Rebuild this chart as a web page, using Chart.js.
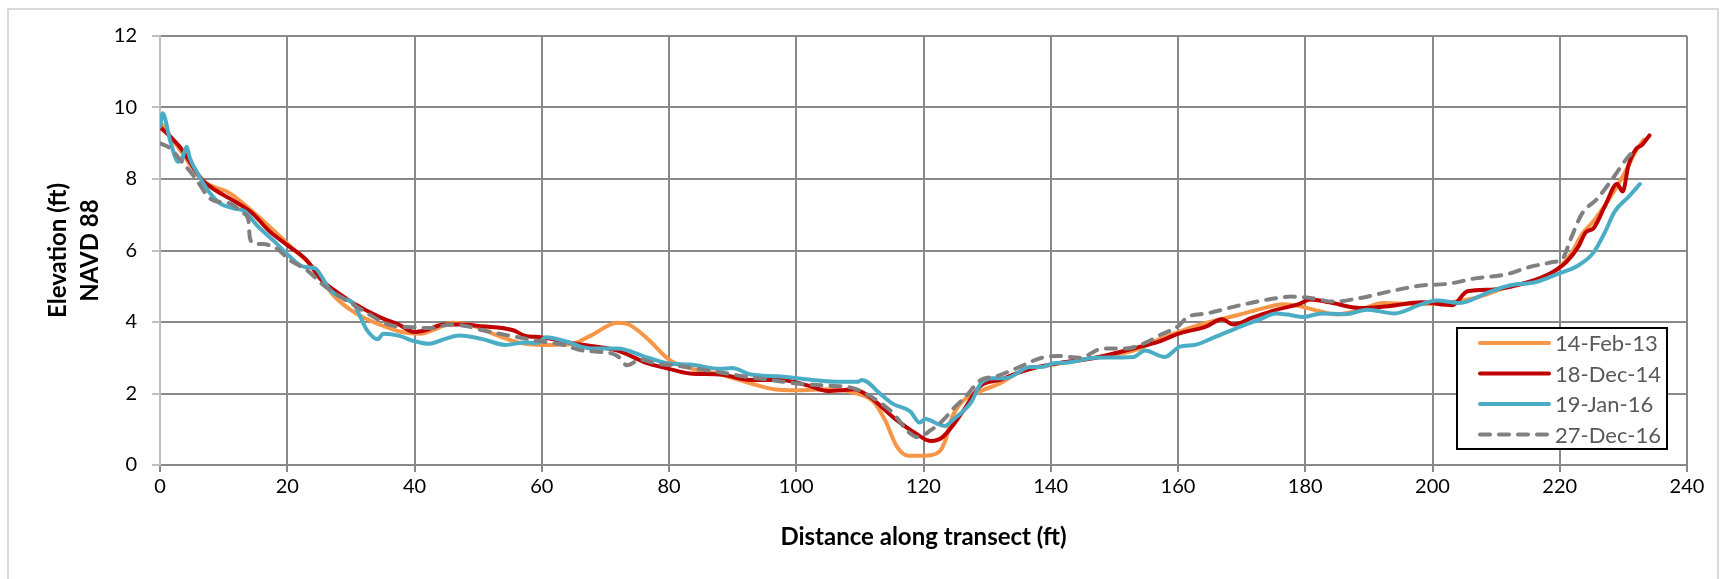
<!DOCTYPE html>
<html>
<head>
<meta charset="utf-8">
<title>Transect elevation</title>
<script src="https://cdn.jsdelivr.net/npm/chart.js@4.4.1/dist/chart.umd.min.js"></script>
<style>
  html, body { margin: 0; padding: 0; background: #fff; }
  canvas { display: block; }
</style>
</head>
<body>
<canvas id="transectChart" width="1732" height="579"></canvas>
<script>
// survey labels
const surveyLabels = ['14-Feb-13', '18-Dec-14', '19-Jan-16', '27-Dec-16'];
const surveyColors = ['#F79646', '#C00000', '#4BACC6', '#808080'];

// [distance (ft), elevation (ft)]
const feb13 = [
  [0, 9.6], [3, 8.85], [6.7, 7.96], [11, 7.6], [17, 6.7], [20, 6.2], [24.8, 5.38], [27.2, 4.76],
  [30.8, 4.24], [34.5, 3.93], [38, 3.72], [41, 3.67], [42.9, 3.77], [45.9, 3.98], [49.5, 3.88],
  [53.1, 3.62], [56.7, 3.41], [60, 3.36], [64.5, 3.38], [67.7, 3.62], [71.9, 3.98], [73.7, 3.93],
  [76.7, 3.52], [80, 2.95], [82.7, 2.74], [88.1, 2.53], [92.9, 2.28], [96.5, 2.12], [100.1, 2.09],
  [104.9, 2.12], [109.1, 2.02], [112.2, 1.76], [114, 1.24], [115.8, 0.52], [117.6, 0.26], [120, 0.26],
  [122.4, 0.36], [123.3, 0.62], [124.5, 1.34], [126, 1.76], [129, 2.07], [132, 2.28], [135, 2.59],
  [139.8, 2.79], [147, 3.0], [153, 3.2], [157.1, 3.52], [160, 3.72], [164.5, 3.98], [169.3, 4.19],
  [172.9, 4.36], [176.6, 4.5], [179, 4.45], [181.4, 4.34], [185, 4.21], [188.6, 4.34], [192.2, 4.53],
  [197, 4.5], [201.9, 4.53], [206.7, 4.67], [211.5, 4.96], [216.3, 5.17], [219.3, 5.43], [221.7, 5.89],
  [223.5, 6.46], [225.3, 6.82], [227.8, 7.45], [230.2, 8.17], [232, 8.79], [233.2, 9.1]
];

const dec14 = [
  [0, 9.46], [3.1, 8.9], [6.7, 7.96], [8.6, 7.7], [11, 7.45], [14.6, 7.03], [17, 6.57], [20, 6.15],
  [23, 5.74], [25.4, 5.17], [27.2, 4.91], [30.2, 4.55], [34.5, 4.14], [37.5, 3.93], [40, 3.72],
  [41.7, 3.77], [44.7, 3.93], [47.1, 3.93], [50.7, 3.88], [55.5, 3.77], [57.3, 3.62], [60, 3.57],
  [65, 3.4], [71.9, 3.2], [76.7, 2.84], [80, 2.69], [83.3, 2.56], [88.1, 2.53], [92.9, 2.38],
  [97.7, 2.38], [101.9, 2.22], [104.9, 2.07], [107.3, 2.09], [109.1, 2.12], [111.5, 1.91],
  [115.2, 1.34], [118.8, 0.88], [121.2, 0.67], [123, 0.78], [126, 1.45], [129, 2.22], [132, 2.38],
  [135, 2.59], [137.9, 2.74], [140.9, 2.84], [147, 3.0], [153, 3.26], [157.1, 3.46], [160, 3.67],
  [164.5, 3.88], [166.9, 4.08], [168.7, 3.93], [171.7, 4.12], [175.4, 4.34], [179, 4.5], [180.8, 4.63],
  [183.8, 4.55], [188.6, 4.39], [193.4, 4.45], [198.3, 4.55], [203.1, 4.47], [205.5, 4.86],
  [209.7, 4.91], [215.1, 5.12], [218.7, 5.38], [221.1, 5.69], [222.9, 6.1], [224.1, 6.51],
  [225.3, 6.62], [227.1, 7.24], [229, 7.86], [229.9, 7.65], [230.8, 8.38], [232, 8.84], [232.9, 8.95],
  [234.1, 9.22]
];

const jan16 = [
  [0, 9.46], [0.42, 9.84], [1.57, 9.09], [2.88, 8.48], [3.4, 8.53], [4.19, 8.9], [4.7, 8.58],
  [5.77, 8.2], [7.86, 7.6], [9.43, 7.32], [11.5, 7.18], [13.4, 7.09], [15.2, 6.71], [18.3, 6.2],
  [20.4, 5.83], [22.5, 5.55], [24.4, 5.5], [25.4, 5.27], [26.7, 4.9], [28.8, 4.66], [30.4, 4.52],
  [32.5, 3.78], [34.2, 3.52], [35.1, 3.67], [37.5, 3.62], [40, 3.46], [42.3, 3.39], [44.7, 3.52],
  [47.1, 3.62], [50.7, 3.52], [54.3, 3.36], [57.3, 3.43], [59.2, 3.41], [60.7, 3.57], [63.7, 3.46],
  [67.6, 3.26], [71.9, 3.26], [76.7, 3.0], [80, 2.84], [83.3, 2.81], [88.1, 2.69], [89.9, 2.71],
  [92.9, 2.53], [97.1, 2.48], [102.5, 2.38], [106.1, 2.33], [109.7, 2.33], [110.3, 2.38],
  [113.4, 1.96], [115.2, 1.71], [117.9, 1.5], [119.4, 1.19], [120.3, 1.29], [122.1, 1.16],
  [123.3, 1.09], [124.8, 1.29], [127.5, 1.76], [129, 2.28], [130.8, 2.43], [132.9, 2.43],
  [136.8, 2.74], [138.6, 2.74], [140.3, 2.84], [142.7, 2.87], [147, 3.0], [153, 3.02], [154.8, 3.2],
  [157.9, 3.02], [160.3, 3.31], [162.7, 3.36], [165.7, 3.57], [169.9, 3.88], [172.9, 4.08],
  [175.4, 4.24], [177.8, 4.19], [179.6, 4.14], [182.6, 4.24], [186.2, 4.22], [189.8, 4.34],
  [194, 4.24], [198.3, 4.5], [200.7, 4.6], [204.3, 4.53], [208.5, 4.81], [212.1, 5.02], [216.3, 5.12],
  [219.9, 5.36], [222.9, 5.58], [225.3, 5.94], [227.1, 6.51], [228.6, 7.08], [230.8, 7.5], [232.6, 7.86]
];

const dec16 = [
  [0, 9.0], [1.57, 8.86], [3.66, 8.44], [5.77, 7.97], [7.6, 7.5], [8.9, 7.37], [11, 7.32],
  [13.1, 7.04], [13.9, 6.85], [14.1, 6.39], [14.7, 6.2], [16.2, 6.18], [18.3, 6.06], [20.4, 5.73],
  [23.1, 5.45], [25.7, 5.03], [28.3, 4.71], [30.9, 4.43], [33, 4.2], [36.1, 3.92], [40, 3.85],
  [42.3, 3.83], [45.9, 3.93], [48.3, 3.88], [50.7, 3.77], [54.9, 3.62], [59.8, 3.46], [63.4, 3.36],
  [66.4, 3.2], [68.9, 3.17], [71.9, 3.05], [73.4, 2.79], [75.5, 2.95], [77.9, 2.84], [80.9, 2.79],
  [84.5, 2.69], [88.1, 2.59], [91.7, 2.48], [95.9, 2.38], [100.1, 2.28], [104.9, 2.22], [108.5, 2.17],
  [112.2, 1.86], [115.2, 1.45], [117.6, 0.93], [119.1, 0.78], [121.2, 0.98], [123, 1.24], [124.8, 1.6],
  [126.6, 1.91], [129, 2.38], [131.4, 2.48], [134.4, 2.69], [138.6, 3.0], [141, 3.05], [144.6, 3.0],
  [148.2, 3.26], [151.8, 3.26], [155.4, 3.46], [157, 3.62], [160, 3.88], [161.5, 4.14], [164.5, 4.24],
  [169.3, 4.45], [174.2, 4.63], [177.8, 4.71], [180.8, 4.67], [184.4, 4.57], [188.6, 4.67],
  [193.4, 4.86], [198.3, 5.02], [202.5, 5.07], [206.7, 5.22], [211.5, 5.33], [215.1, 5.53],
  [218.7, 5.67], [220.5, 5.79], [221.7, 6.31], [223.5, 7.03], [225.9, 7.45], [228.3, 8.01],
  [230.8, 8.63], [231.8, 8.8]
];

const xTicks = [0, 20, 40, 60, 80, 100, 120, 140, 160, 180, 200, 220, 240];
const yTicks = [0, 2, 4, 6, 8, 10, 12];

const FONT = 'Lato, "Open Sans", sans-serif';
const GRID = '#898989';
const AXIS_LIGHT = '#bfbfbf';

function toPoints(pairs) {
  return pairs.map(p => ({ x: p[0], y: p[1] }));
}

const seriesData = [feb13, dec14, jan16, dec16];

const datasets = seriesData.map((pairs, i) => ({
  label: surveyLabels[i],
  data: toPoints(pairs),
  borderColor: surveyColors[i],
  backgroundColor: surveyColors[i],
  borderWidth: 4,
  borderDash: i === 3 ? [10, 9] : [],
  borderCapStyle: 'round',
  borderJoinStyle: 'round',
  pointRadius: 0,
  cubicInterpolationMode: 'monotone',
  fill: false,
  order: 3 - i   // later surveys drawn on top, like the original
}));

// light grey frame round the whole chart
const outerFrame = {
  id: 'outerFrame',
  beforeDraw(chart) {
    const ctx = chart.ctx;
    ctx.save();
    ctx.strokeStyle = '#d9d9d9';
    ctx.lineWidth = 2;
    ctx.strokeRect(8, 9, 1710, 640);
    ctx.restore();
  }
};

// boxed legend sitting inside the plot, bottom right
const boxLegend = {
  id: 'boxLegend',
  afterDraw(chart) {
    const ctx = chart.ctx;
    const area = chart.chartArea;
    const w = 210, h = 121;
    const left = area.right - 20 - w;
    const top = area.bottom - 16 - h;
    ctx.save();
    ctx.fillStyle = '#fff';
    ctx.fillRect(left, top, w, h);
    ctx.strokeStyle = '#000';
    ctx.lineWidth = 2;
    ctx.strokeRect(left, top, w, h);

    ctx.font = '22px ' + FONT;
    ctx.textBaseline = 'middle';
    ctx.textAlign = 'left';
    chart.data.datasets.forEach((ds, i) => {
      const y = top + 15 + i * 30.5;
      ctx.beginPath();
      ctx.setLineDash(ds.borderDash || []);
      ctx.lineCap = 'round';
      ctx.strokeStyle = ds.borderColor;
      ctx.lineWidth = 4;
      ctx.moveTo(left + 23, y);
      ctx.lineTo(left + 92, y);
      ctx.stroke();
      ctx.setLineDash([]);
      ctx.fillStyle = '#595959';
      ctx.fillText(ds.label, left + 98, y + 1);
    });
    ctx.restore();
  }
};

const ctx = document.getElementById('transectChart').getContext('2d');
new Chart(ctx, {
  type: 'line',
  data: { datasets: datasets },
  plugins: [outerFrame, boxLegend],
  options: {
    responsive: false,
    maintainAspectRatio: false,
    devicePixelRatio: 1,
    animation: false,
    layout: {
      padding: { left: 0, right: 45, top: 36, bottom: 0 }
    },
    plugins: {
      legend: { display: false },
      tooltip: { enabled: false }
    },
    scales: {
      x: {
        type: 'linear',
        min: 0,
        max: 240,
        afterFit: scale => { scale.height = 114; },
        afterBuildTicks: scale => { scale.ticks = xTicks.map(v => ({ value: v })); },
        grid: {
          color: c => (c.index === 0 ? AXIS_LIGHT : GRID),
          tickColor: GRID,
          lineWidth: 2,
          tickLength: 7
        },
        border: { color: GRID, width: 2 },
        ticks: {
          color: '#000',
          padding: 3,
          maxRotation: 0,
          font: { family: FONT, size: 20 }
        },
        title: {
          display: true,
          text: 'Distance along transect (ft)',
          color: '#000',
          font: { family: FONT, size: 24, weight: 'bold', lineHeight: 1.2 },
          padding: { top: 0, bottom: 27 }
        }
      },
      y: {
        type: 'linear',
        min: 0,
        max: 12,
        afterFit: scale => { scale.width = 160; },
        afterBuildTicks: scale => { scale.ticks = yTicks.map(v => ({ value: v })); },
        grid: {
          color: GRID,
          tickColor: AXIS_LIGHT,
          lineWidth: 2,
          tickLength: 8
        },
        border: { color: AXIS_LIGHT, width: 2 },
        ticks: {
          color: '#000',
          padding: 15,
          font: { family: FONT, size: 20 }
        },
        title: {
          display: true,
          text: ['Elevation (ft)', 'NAVD 88'],
          color: '#000',
          font: { family: FONT, size: 24, weight: 'bold', lineHeight: 32 / 24 },
          padding: { top: 42, bottom: 0 }
        }
      }
    }
  }
});
</script>
</body>
</html>
